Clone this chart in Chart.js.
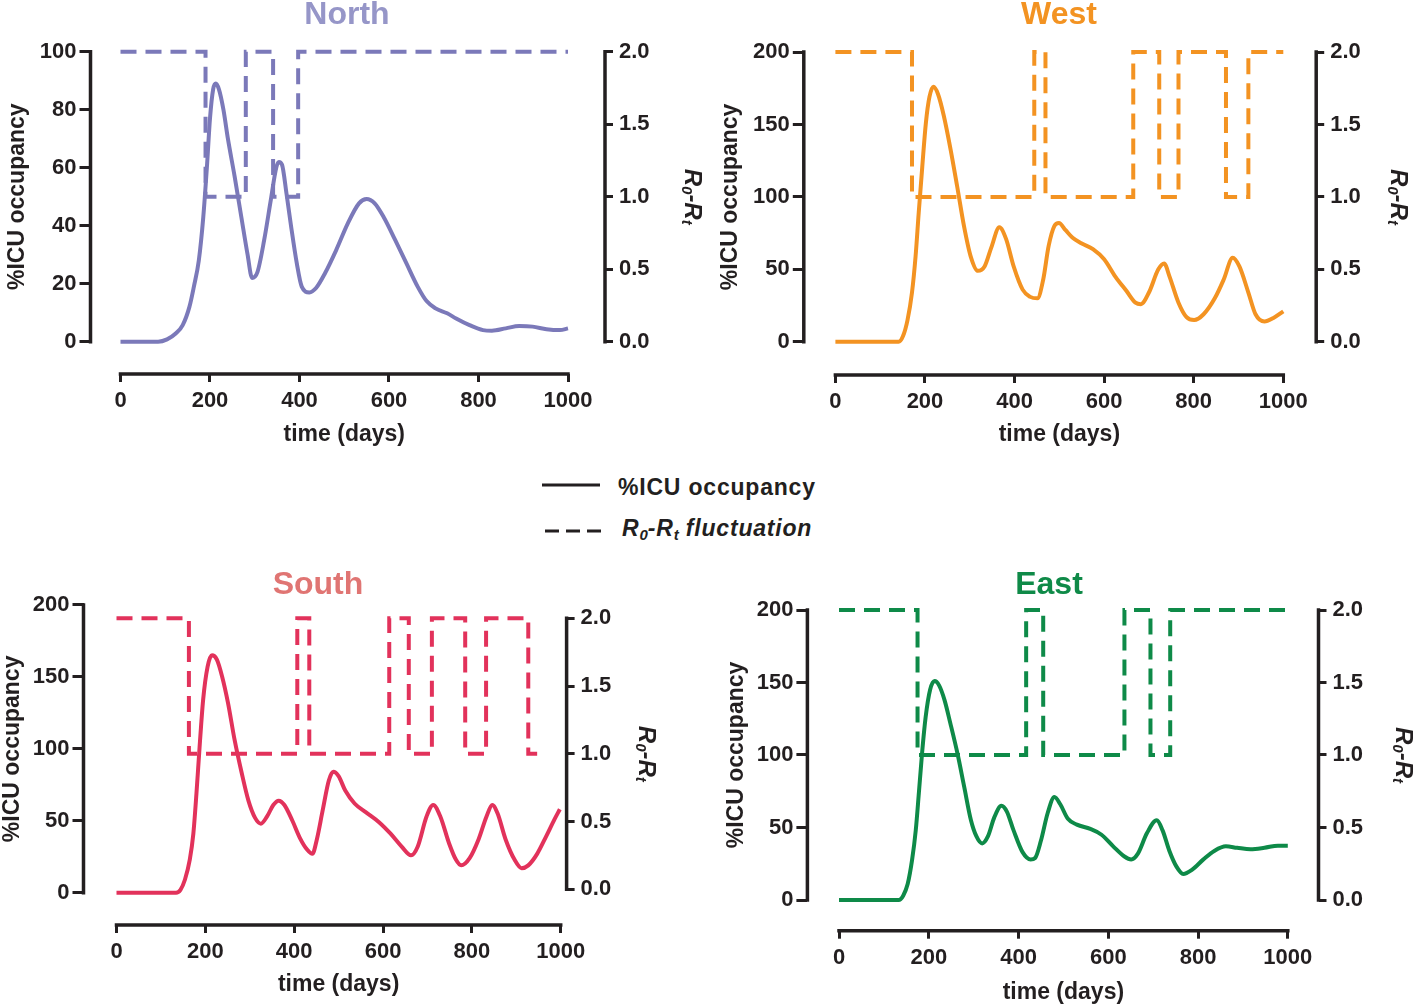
<!DOCTYPE html>
<html>
<head>
<meta charset="utf-8">
<script src="https://cdn.jsdelivr.net/npm/chart.js@4.4.1/dist/chart.umd.min.js"></script>
<style>
  html, body { margin: 0; padding: 0; background: #fff; }
  #page { position: relative; width: 1418px; height: 1008px; overflow: hidden;
          font-family: 'Liberation Sans', Arial, sans-serif; color: #231f20; background: #fff; }
  #page canvas { position: absolute; }
  .lg { position: absolute; font-weight: bold; font-size: 23px; line-height: 28px; letter-spacing: 0.8px; white-space: nowrap; }
  .lg sub { font-size: 15px; vertical-align: -4px; letter-spacing: 0; }
</style>
</head>
<body>
<div id="page">
  <canvas id="c-north" width="709" height="460" style="left:0;top:0"></canvas>
  <canvas id="c-west" width="709" height="460" style="left:709px;top:0"></canvas>
  <canvas id="c-south" width="709" height="448" style="left:0;top:560px"></canvas>
  <canvas id="c-east" width="709" height="448" style="left:709px;top:560px"></canvas>

  <svg style="position:absolute;left:540px;top:476px" width="64" height="60">
    <line x1="2" y1="9" x2="60" y2="9" stroke="#231f20" stroke-width="3"/>
    <line x1="5" y1="55" x2="61" y2="55" stroke="#231f20" stroke-width="3" stroke-dasharray="14 7"/>
  </svg>
  <div class="lg" style="left:618px;top:473px">%ICU occupancy</div>
  <div class="lg" style="left:622px;top:514px;font-style:italic">R<sub>0</sub>-R<sub>t</sub> fluctuation</div>
</div>

<script>
// Занятость ОРИТ (%) и R0-Rt по регионам

const INK = '#231f20';
const FONT = "'Liberation Sans', Arial, Helvetica, sans-serif";

const xTicks = [0, 200, 400, 600, 800, 1000];
const rTicks = [0, 0.5, 1, 1.5, 2];
const northTicks = [0, 20, 40, 60, 80, 100];
const regionTicks = [0, 50, 100, 150, 200];

// ===== North =====
const northDays = [0, 84, 104, 124, 139, 154, 164, 175, 185, 193, 200, 207, 213, 220, 230, 240, 255, 270, 284, 294,
    306, 321, 336, 348, 354, 361, 371, 381, 394, 405, 422, 437, 457, 482, 508, 533, 550, 568, 588, 614,
    639, 664, 684, 704, 730, 750, 780, 810, 830, 861, 891, 921, 952, 982, 1000];
const northIcu = [0, 0, 0.8, 2.9, 5.7, 12, 19, 28, 43, 60, 77, 87, 89, 87, 80, 70, 57, 43, 30, 22,
    24, 35, 49, 60, 62, 61, 51, 40, 27, 19, 17, 18.5, 23.6, 31.6, 40.8, 47.7, 49.2, 47.7, 43, 35,
    27, 19, 14, 11.5, 9.8, 8, 5.7, 4, 3.8, 4.6, 5.4, 5.2, 4.3, 4, 4.6];
const northStepDays = [0, 190, 280, 341, 397, 1000];
const northStepR = [2, 1, 2, 1, 2, 2];

// ===== West =====
const westDays = [0, 141, 151, 161, 171, 179, 186, 194, 202, 210, 219, 229, 242, 257, 272, 287, 302, 318, 333, 348,
    366, 381, 398, 418, 435, 451, 464, 476, 489, 499, 514, 529, 549, 575, 600, 625, 650, 670, 682, 700,
    721, 734, 746, 766, 784, 801, 822, 847, 867, 887, 902, 922, 938, 958, 978, 1000];
const westIcu = [0, 0, 4, 15, 34, 59, 89, 121, 151, 169, 176, 171, 156, 133, 107, 80, 59, 49, 52, 65,
    79, 71, 52, 36, 31, 30, 43, 66, 80, 82, 77, 72, 68, 64, 57, 45, 35, 27, 26, 34,
    50, 54, 45, 27, 17, 15, 19, 30, 43, 58, 52, 34, 19, 14, 16.5, 21];
const westStepDays = [0, 171, 444, 469, 665, 723, 766, 872, 922, 1000];
const westStepR = [2, 1, 2, 1, 2, 1, 2, 1, 2, 2];

// ===== South =====
const southDays = [0, 134, 144, 154, 165, 173, 180, 187, 195, 205, 215, 226, 238, 251, 266, 282, 297, 312, 325, 339,
    353, 365, 378, 396, 413, 429, 441, 451, 464, 478, 488, 500, 515, 536, 561, 591, 617, 642, 663, 678,
    698, 713, 729, 749, 764, 776, 795, 815, 833, 846, 858, 876, 896, 912, 927, 947, 967, 986, 998];
const southIcu = [0, 0, 2, 9, 23, 41, 69, 101, 134, 157, 165, 162, 150, 132, 106, 83, 64, 52, 48, 53,
    61, 64, 61, 50, 38, 30, 27, 37, 57, 78, 84, 81, 71, 62, 56, 49, 41, 32, 26, 32,
    53, 61, 53, 34, 23, 19, 24, 37, 53, 61, 55, 37, 23, 17, 19, 27, 39, 51, 58];
const southStepDays = [0, 163, 407, 434, 614, 658, 710, 785, 832, 927, 947];
const southStepR = [2, 1, 2, 1, 2, 1, 2, 1, 2, 1, 1];

// ===== East =====
const eastDays = [0, 133, 143, 153, 163, 171, 178, 185, 193, 203, 213, 223, 235, 248, 264, 279, 294, 306, 319, 332,
    346, 362, 374, 389, 409, 427, 437, 450, 465, 480, 493, 510, 530, 560, 585, 611, 636, 651, 666, 686,
    708, 721, 736, 752, 767, 787, 812, 837, 862, 887, 917, 948, 978, 1000];
const eastIcu = [0, 0, 3, 11, 28, 48, 74, 101, 126, 145, 151, 148, 138, 122, 101, 78, 55, 44, 39, 44,
    57, 65, 61, 48, 33, 28, 29, 41, 60, 71, 66, 56, 52, 49, 45, 37, 30, 28, 32, 46,
    55, 48, 34, 23, 18, 21, 28, 34, 37, 36, 35, 36, 37.5, 37.5];
const eastStepDays = [0, 175, 417, 455, 636, 694, 738, 1000];
const eastStepR = [2, 1, 2, 1, 2, 1, 2, 2];

// геометрия панелей (абсолютные пиксели страницы)
const panels = [
    { id: 'c-north', title: 'North', titleColor: '#9696c8', color: '#7b79b9',
      days: northDays, icu: northIcu, stepDays: northStepDays, stepR: northStepR, leftTicks: northTicks,
      box: { x: 0, y: 0, w: 709, h: 460 }, axL: 90.5, axR: 605, x0: 120.5, x1000: 568,
      topL: 51.7, zeroL: 341.7, topR: 51.7, zeroR: 341.7, axX: 374,
      titleX: 347, titleY: 15, leftTitleX: 18, rightTitleX: 692, xTitleY: 435 },
    { id: 'c-west', title: 'West', titleColor: '#f39322', color: '#f39322',
      days: westDays, icu: westIcu, stepDays: westStepDays, stepR: westStepR, leftTicks: regionTicks,
      box: { x: 709, y: 0, w: 709, h: 460 }, axL: 803.8, axR: 1316.2, x0: 835.4, x1000: 1283.3,
      topL: 52, zeroL: 341.8, topR: 52, zeroR: 341.8, axX: 375,
      titleX: 1059, titleY: 15, leftTitleX: 731, rightTitleX: 1398, xTitleY: 435 },
    { id: 'c-south', title: 'South', titleColor: '#e07573', color: '#e2325b',
      days: southDays, icu: southIcu, stepDays: southStepDays, stepR: southStepR, leftTicks: regionTicks,
      box: { x: 0, y: 560, w: 709, h: 448 }, axL: 83.5, axR: 566.6, x0: 116.5, x1000: 560.7,
      topL: 605, zeroL: 892.7, topR: 618.3, zeroR: 889.3, axX: 925,
      titleX: 318, titleY: 585, leftTitleX: 13, rightTitleX: 646, xTitleY: 985 },
    { id: 'c-east', title: 'East', titleColor: '#0f8a48', color: '#0e8a48',
      days: eastDays, icu: eastIcu, stepDays: eastStepDays, stepR: eastStepR, leftTicks: regionTicks,
      box: { x: 709, y: 560, w: 709, h: 448 }, axL: 807.4, axR: 1318.5, x0: 839, x1000: 1287.8,
      topL: 610, zeroL: 900, topR: 610, zeroR: 900, axX: 930.7,
      titleX: 1049, titleY: 585, leftTitleX: 737, rightTitleX: 1403, xTitleY: 993 }
];

// ===== ОСИ, ПОДПИСИ =====
const decorations = {
    id: 'decorations',
    afterDraw(chart) {
        const p = chart.options.plugins.decorations.panel;
        const { ctx, chartArea: a, scales } = chart;
        const bx = p.box.x, by = p.box.y;
        const leftMax = p.leftTicks[p.leftTicks.length - 1];
        ctx.save();

        // линии осей только между крайними делениями
        ctx.strokeStyle = INK;
        ctx.lineWidth = 3.5;
        ctx.lineCap = 'square';
        ctx.beginPath();
        ctx.moveTo(scales.x.getPixelForValue(0), a.bottom);
        ctx.lineTo(scales.x.getPixelForValue(1000), a.bottom);
        ctx.moveTo(a.left, scales.y.getPixelForValue(leftMax));
        ctx.lineTo(a.left, scales.y.getPixelForValue(0));
        ctx.moveTo(a.right, scales.y1.getPixelForValue(2));
        ctx.lineTo(a.right, scales.y1.getPixelForValue(0));
        ctx.stroke();

        ctx.textAlign = 'center';
        ctx.textBaseline = 'middle';

        // заголовок панели
        ctx.fillStyle = p.titleColor;
        ctx.font = `bold 32px ${FONT}`;
        ctx.fillText(p.title, p.titleX - bx, p.titleY - by);

        ctx.fillStyle = INK;
        ctx.font = `bold 23px ${FONT}`;
        // ось X
        const xMid = (scales.x.getPixelForValue(0) + scales.x.getPixelForValue(1000)) / 2;
        ctx.fillText('time (days)', xMid, p.xTitleY - by);

        // левая ось
        const yMidL = (scales.y.getPixelForValue(0) + scales.y.getPixelForValue(leftMax)) / 2;
        ctx.save();
        ctx.translate(p.leftTitleX - bx, yMidL);
        ctx.rotate(-Math.PI / 2);
        ctx.fillText('%ICU occupancy', 0, 0);
        ctx.restore();

        // правая ось: R0-Rt с индексами
        const yMidR = (scales.y1.getPixelForValue(0) + scales.y1.getPixelForValue(2)) / 2;
        const big = `italic bold 24px ${FONT}`, small = `italic bold 15px ${FONT}`;
        const parts = [['R', big, 0], ['0', small, 6], ['-R', big, 0], ['t', small, 6]];
        let total = 0;
        parts.forEach(([t, f]) => { ctx.font = f; total += ctx.measureText(t).width; });
        ctx.save();
        ctx.translate(p.rightTitleX - bx, yMidR);
        ctx.rotate(Math.PI / 2);
        ctx.textAlign = 'left';
        let cx = -total / 2;
        parts.forEach(([t, f, dy]) => {
            ctx.font = f;
            ctx.fillText(t, cx, dy);
            cx += ctx.measureText(t).width;
        });
        ctx.restore();

        ctx.restore();
    }
};

function makeChart(p) {
    const bx = p.box.x, by = p.box.y;
    const top = Math.min(p.topL, p.topR);
    const leftMax = p.leftTicks[p.leftTicks.length - 1];

    const xPer = (p.x1000 - p.x0) / 1000;
    const perL = (p.zeroL - p.topL) / leftMax;
    const perR = (p.zeroR - p.topR) / 2;

    const axisGrid = (len) => ({
        drawOnChartArea: false, drawTicks: true, tickLength: len, color: INK, lineWidth: 3
    });
    const tickFont = { family: FONT, size: 22, weight: 'bold' };

    return new Chart(document.getElementById(p.id), {
        type: 'line',
        data: {
            datasets: [
                {
                    label: '%ICU occupancy',
                    data: p.days.map((d, i) => ({ x: d, y: p.icu[i] })),
                    yAxisID: 'y',
                    borderColor: p.color,
                    borderWidth: 4,
                    pointRadius: 0,
                    cubicInterpolationMode: 'monotone',
                    clip: false
                },
                {
                    label: 'R0-Rt fluctuation',
                    data: p.stepDays.map((d, i) => ({ x: d, y: p.stepR[i] })),
                    yAxisID: 'y1',
                    borderColor: p.color,
                    borderWidth: 4,
                    borderDash: [16, 9],
                    stepped: true,
                    pointRadius: 0,
                    clip: false
                }
            ]
        },
        options: {
            responsive: false,
            animation: false,
            devicePixelRatio: 1,
            layout: { padding: { top: top - by, left: 0, right: 0, bottom: 0 } },
            plugins: {
                legend: { display: false },
                tooltip: { enabled: false },
                decorations: { panel: p }
            },
            scales: {
                x: {
                    type: 'linear',
                    min: (p.axL - p.x0) / xPer,
                    max: 1000 + (p.axR - p.x1000) / xPer,
                    afterBuildTicks: s => { s.ticks = xTicks.map(v => ({ value: v })); },
                    afterFit: s => { s.height = by + p.box.h - p.axX; },
                    border: { display: false },
                    grid: axisGrid(8),
                    ticks: { color: INK, font: tickFont, padding: 6, maxRotation: 0, autoSkip: false,
                             callback: v => String(v) }
                },
                y: {
                    position: 'left',
                    min: (p.zeroL - p.axX) / perL,
                    max: (p.zeroL - top) / perL,
                    afterBuildTicks: s => { s.ticks = p.leftTicks.map(v => ({ value: v })); },
                    afterFit: s => { s.width = p.axL - bx; },
                    border: { display: false },
                    grid: axisGrid(11),
                    ticks: { color: INK, font: tickFont, padding: 3, callback: v => String(v) }
                },
                y1: {
                    position: 'right',
                    min: (p.zeroR - p.axX) / perR,
                    max: (p.zeroR - top) / perR,
                    afterBuildTicks: s => { s.ticks = rTicks.map(v => ({ value: v })); },
                    afterFit: s => { s.width = bx + p.box.w - p.axR; },
                    border: { display: false },
                    grid: axisGrid(8),
                    ticks: { color: INK, font: tickFont, padding: 6, callback: v => v.toFixed(1) }
                }
            }
        },
        plugins: [decorations]
    });
}

panels.forEach(makeChart);
</script>
</body>
</html>
